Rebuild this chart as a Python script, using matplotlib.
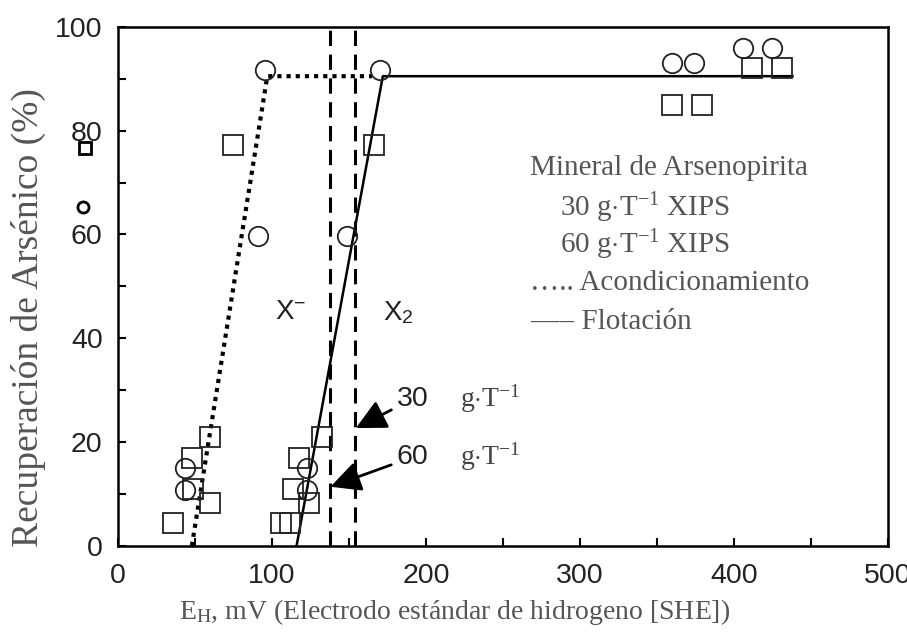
import numpy as np
import matplotlib
matplotlib.use('Agg')
import matplotlib.pyplot as plt
from matplotlib.ticker import MultipleLocator

plt.rcParams['mathtext.fontset'] = 'custom'
plt.rcParams['mathtext.rm'] = 'Liberation Serif'
plt.rcParams['mathtext.it'] = 'Liberation Serif:italic'
plt.rcParams['mathtext.sf'] = 'Liberation Sans'

# ---- datos ----
circ_x = [43.5, 43.5, 91, 95.5, 122.7, 122.7, 149, 170, 360, 374, 406, 425]
circ_y = [15, 10.8, 59.7, 91.7, 15, 10.8, 59.7, 91.7, 93, 93, 96, 96]

sq_x = [36, 48, 49, 60, 60, 75, 106, 112, 114, 117.5, 124, 132.5, 166, 360, 379, 412, 431]
sq_y = [4.4, 17, 11, 8.3, 21, 77.3, 4.4, 4.4, 11, 17, 8.3, 21, 77.3, 85, 85, 92, 92]

# acondicionamiento (punteada) y flotación (continua)
acond_x = [48, 97, 165]
acond_y = [0, 90.5, 90.5]
flot_x = [116, 172, 438]
flot_y = [0, 90.5, 90.5]

# límites X- / X2
dash_x = [138, 154]

fig = plt.figure(figsize=(9.07, 6.4), dpi=100)
ax = fig.add_axes([0.130, 0.147, 0.849, 0.811])

ax.plot(acond_x, acond_y, color='black', linestyle=(0, (1, 1.2)), lw=3)
ax.plot(flot_x, flot_y, color='black', lw=1.8)
for xv in dash_x:
    ax.plot([xv, xv], [0, 100], color='black', linestyle=(0, (5, 2.8)), lw=2.2)

ax.plot(sq_x, sq_y, 's', ms=14, mfc='none', mec='#222222', mew=1.3)
ax.plot(circ_x, circ_y, 'o', ms=14, mfc='none', mec='#222222', mew=1.3)

# marcadores de leyenda fuera del eje
ax.plot([-21.4], [76.7], 's', ms=8, mfc='none', mec='black', mew=2, clip_on=False)
ax.plot([-22.7], [65.3], 'o', ms=8, mfc='none', mec='black', mew=2, clip_on=False)

ax.set_xlim(0, 500)
ax.set_ylim(0, 100)
ax.xaxis.set_major_locator(MultipleLocator(100))
ax.xaxis.set_minor_locator(MultipleLocator(50))
ax.yaxis.set_major_locator(MultipleLocator(20))
ax.yaxis.set_minor_locator(MultipleLocator(10))
ax.tick_params(which='both', direction='in', length=6, width=1.5, top=False, right=False)
ax.tick_params(axis='x', pad=12)
ax.tick_params(axis='y', pad=11)
for lab in ax.get_xticklabels() + ax.get_yticklabels():
    lab.set_family('Liberation Sans')
    lab.set_fontsize(20.5)
    lab.set_color('#222222')
for s in ax.spines.values():
    s.set_linewidth(1.8)

ax.text(112, 45, r'X$^{\mathsf{-}}$', fontsize=20, family='Liberation Sans', ha='center', va='center', color='#222222')
ax.text(182, 45, r'X$_{\mathsf{2}}$', fontsize=20, family='Liberation Sans', ha='center', va='center', color='#222222')

ax.annotate('30', xy=(154.5, 22.7), xytext=(181, 28.3), fontsize=20.5, family='Liberation Sans',
            va='center', color='#222222',
            arrowprops=dict(arrowstyle='-|>,head_length=0.9,head_width=0.45', color='black', lw=2, shrinkA=2, shrinkB=0))
ax.annotate('60', xy=(138, 11.4), xytext=(181, 17.1), fontsize=20.5, family='Liberation Sans',
            va='center', color='#222222',
            arrowprops=dict(arrowstyle='-|>,head_length=0.9,head_width=0.45', color='black', lw=2, shrinkA=2, shrinkB=0))
ax.text(222, 28.3, r'g$\cdot$T$^{-1}$', fontsize=20, family='Liberation Serif', va='center', color='#444444')
ax.text(222, 17.1, r'g$\cdot$T$^{-1}$', fontsize=20, family='Liberation Serif', va='center', color='#444444')

leg_lines = ['Mineral de Arsenopirita',
             r'30 g$\cdot$T$^{-1}$ XIPS',
             r'60 g$\cdot$T$^{-1}$ XIPS',
             '….. Acondicionamiento',
             '––– Flotación']
leg_x = [267.5, 287, 287, 267.5, 267.5]
leg_y = [72.8, 65.1, 58.0, 50.7, 43.2]
for t, xv, yv in zip(leg_lines, leg_x, leg_y):
    ax.text(xv, yv, t, fontsize=21, family='Liberation Serif', va='center', color='#555555')

fig.text(28 / 907, 1 - 318 / 640, 'Recuperación de Arsénico (%)', fontsize=27, family='Liberation Serif',
         color='#555555', rotation=90, ha='center', va='center')
fig.text(455 / 907, 1 - 612 / 640, r'E$_{\mathrm{H}}$, mV (Electrodo estándar de hidrogeno [SHE])', fontsize=20,
         family='Liberation Serif', color='#555555', ha='center', va='center')

fig.savefig('out.png', dpi=100)
